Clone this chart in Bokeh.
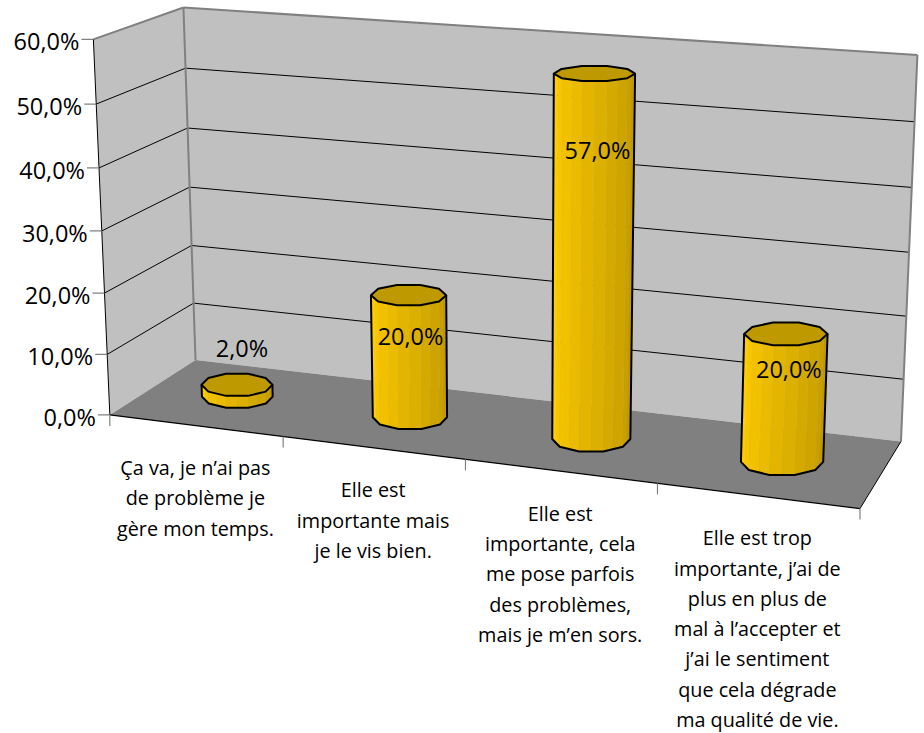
import numpy as np
from bokeh.embed import file_html
from bokeh.resources import INLINE
from bokeh.plotting import figure
from bokeh.models import Range1d
from bokeh.core.properties import value

# ---- data ----
categories = [
    ["Ça va, je n’ai pas", "de problème je", "gère mon temps."],
    ["Elle est", "importante mais", "je le vis bien."],
    ["Elle est", "importante, cela", "me pose parfois", "des problèmes,", "mais je m’en sors."],
    ["Elle est trop", "importante, j’ai de", "plus en plus de", "mal à l’accepter et", "j’ai le sentiment", "que cela dégrade", "ma qualité de vie."],
]
values = [2.0, 20.0, 57.0, 20.0]
value_labels = ["2,0%", "20,0%", "57,0%", "20,0%"]
y_ticks = [0, 10, 20, 30, 40, 50, 60]
y_tick_labels = ["0,0%", "10,0%", "20,0%", "30,0%", "40,0%", "50,0%", "60,0%"]

# ---- layout: the 3D view, fitted from where the box corners sit on the page ----
W, H = 924, 733
FONT = "Open Sans"
n_cat = len(values)
ymax = y_ticks[-1]
anchors = [
    (0, 0, 0, 109, 415), (0, 10, 0, 106.5, 353), (0, 20, 0, 104, 293), (0, 30, 0, 101, 230),
    (0, 40, 0, 99, 167), (0, 50, 0, 96, 103), (0, 60, 0, 93, 39),
    (0, 0, 1, 195.5, 358), (0, 10, 1, 193, 303), (0, 20, 1, 191, 245), (0, 30, 1, 189, 187),
    (0, 40, 1, 187, 127), (0, 50, 1, 184.5, 69), (0, 60, 1, 183, 7),
    (4, 0, 1, 901, 441), (4, 10, 1, 903, 379), (4, 20, 1, 906, 315), (4, 30, 1, 908, 253),
    (4, 40, 1, 911, 187), (4, 50, 1, 914.5, 121), (4, 60, 1, 917, 54),
    (4, 0, 0, 859, 507), (1, 0, 0, 283, 437), (2, 0, 0, 465, 460), (3, 0, 0, 657, 483),
]
A, b = [], []
for uu, vv, ww, sx, sy in anchors:
    X = (uu / 4, vv / 60, ww)
    A.append([*X, 1, 0, 0, 0, 0, *[-sx * c for c in X]]); b.append(sx)
    A.append([0, 0, 0, 0, *X, 1, *[-sy * c for c in X]]); b.append(sy)
m = np.linalg.lstsq(np.array(A, float), np.array(b, float), rcond=None)[0]


def proj(u, v, w):
    X = np.array([u / 4, v / 60, w, 1.0])
    d = m[8] * X[0] + m[9] * X[1] + m[10] * X[2] + 1
    return (m[0:4] @ X) / d, (m[4:8] @ X) / d


p = figure(width=W, height=H, x_range=Range1d(0, W), y_range=Range1d(H, 0),
           output_backend="svg", toolbar_location=None, min_border=0,
           outline_line_color=None, background_fill_color="white", border_fill_color="white")
p.xaxis.visible = False
p.yaxis.visible = False
p.xgrid.visible = False
p.ygrid.visible = False


def face(pts, color):
    xs, ys = zip(*[proj(*q) for q in pts])
    p.patch(list(xs), list(ys), fill_color=color, line_color=None)


def seg(a, b_, color, width=1):
    xa, ya = proj(*a)
    xb, yb = proj(*b_)
    p.line([xa, xb], [ya, yb], line_color=color, line_width=width)


WALL, FLOOR, EDGE = "#C0C0C0", "#808080", "#808080"
face([(0, 0, 0), (0, ymax, 0), (0, ymax, 1), (0, 0, 1)], WALL)
face([(0, 0, 1), (0, ymax, 1), (n_cat, ymax, 1), (n_cat, 0, 1)], WALL)
face([(0, 0, 0), (0, 0, 1), (n_cat, 0, 1), (n_cat, 0, 0)], FLOOR)

for t in y_ticks[1:-1]:
    seg((0, t, 0), (0, t, 1), "#000000")
    seg((0, t, 1), (n_cat, t, 1), "#000000")
seg((0, ymax, 0), (0, ymax, 1), EDGE, 2)
seg((0, ymax, 1), (n_cat, ymax, 1), EDGE, 2)
seg((0, 0, 1), (0, ymax, 1), EDGE, 2)
seg((n_cat, 0, 1), (n_cat, ymax, 1), EDGE, 2)
seg((0, 0, 0), (0, ymax, 0), "#000000")
seg((0, 0, 0), (n_cat, 0, 0), "#000000", 1.3)
seg((n_cat, 0, 0), (n_cat, 0, 1), "#000000")

# ticks and tick labels
tx, ty = zip(*[proj(0, t, 0) for t in y_ticks])
p.segment(x0=[x - 12 for x in tx], y0=list(ty), x1=list(tx), y1=list(ty), line_color=EDGE, line_width=1.2)
p.text(x=[x - 14 for x in tx], y=[y + 2 for y in ty], text=y_tick_labels, text_font=value(FONT),
       text_font_size="23.5px", text_align="right", text_baseline="middle", text_color="#000000")
cx, cy = zip(*[proj(i, 0, 0) for i in range(n_cat + 1)])
p.segment(x0=list(cx), y0=list(cy), x1=list(cx), y1=[y + 11 for y in cy], line_color=EDGE, line_width=1.2)

# category labels
for i, lines in enumerate(categories):
    mx, my = proj(i + 0.5, 0, 0)
    p.text(x=[mx] * len(lines), y=[my] * len(lines), text=lines,
           y_offset=[42 + 30.3 * k for k in range(len(lines))],
           text_font=value(FONT), text_font_size="19.8px",
           text_align="center", text_baseline="middle", text_color="#000000")

# bars
RU, RW, CW = 0.21, 0.21, 0.5
C0 = np.array([0xFF, 0xCC, 0x00])
C1 = np.array([0xC0, 0x99, 0x00])
TOP = "#BF9900"
label_dx = [5, 2, 3, 3]
label_dy = [-37, 41, 76, 35]


def decagon(u, v, w, sub=1):
    cx_, cy_ = proj(u, v, w)
    rx = abs(proj(u + RU, v, w)[0] - proj(u - RU, v, w)[0]) / 2
    ry = abs(proj(u, v, w - RW)[1] - proj(u, v, w + RW)[1]) / 2
    return cx_, cy_, rx, ry


for i, val in enumerate(values):
    u = i + 0.5
    bx, by, brx, bry = decagon(u, 0, CW)
    tx_, ty_, trx, try_ = decagon(u, val, CW)
    ang = np.deg2rad(np.arange(0, 181, 36))  # right to left along the front, downward on screen
    base = [(bx + brx * np.cos(a), by + bry * np.sin(a)) for a in ang]
    topf = [(tx_ + trx * np.cos(a), ty_ + try_ * np.sin(a)) for a in ang]
    # subdivided side strips, left = bright, right = dark
    bsub, tsub = [base[0]], [topf[0]]
    for k in range(1, len(base)):
        bsub += [tuple((np.array(base[k - 1]) + np.array(base[k])) / 2), base[k]]
        tsub += [tuple((np.array(topf[k - 1]) + np.array(topf[k])) / 2), topf[k]]
    ns = len(bsub) - 1
    for k in range(ns):
        f = k / (ns - 1)
        col = C1 + (C0 - C1) * f
        hexc = "#%02X%02X%02X" % tuple(int(round(c)) for c in col)
        p.patch([bsub[k][0], bsub[k + 1][0], tsub[k + 1][0], tsub[k][0]],
                [bsub[k][1], bsub[k + 1][1], tsub[k + 1][1], tsub[k][1]],
                fill_color=hexc, line_color=hexc, line_width=0.4)
    # outline of the side
    ox = [topf[0][0]] + [q[0] for q in base] + [topf[-1][0]]
    oy = [topf[0][1]] + [q[1] for q in base] + [topf[-1][1]]
    p.line(ox, oy, line_color="#000000", line_width=2, line_join="round")
    # top face
    full = np.deg2rad(np.arange(0, 360, 36))
    p.patch(list(tx_ + trx * np.cos(full)), list(ty_ + try_ * np.sin(full)),
            fill_color=TOP, line_color="#000000", line_width=2, line_join="round")
    # value label
    p.text(x=[tx_ + label_dx[i]], y=[ty_ + label_dy[i]], text=[value_labels[i]],
           text_font=value(FONT), text_font_size="23.5px", text_align="center",
           text_baseline="middle", text_color="#000000")

open("out.html", "w").write(file_html(p, INLINE))
